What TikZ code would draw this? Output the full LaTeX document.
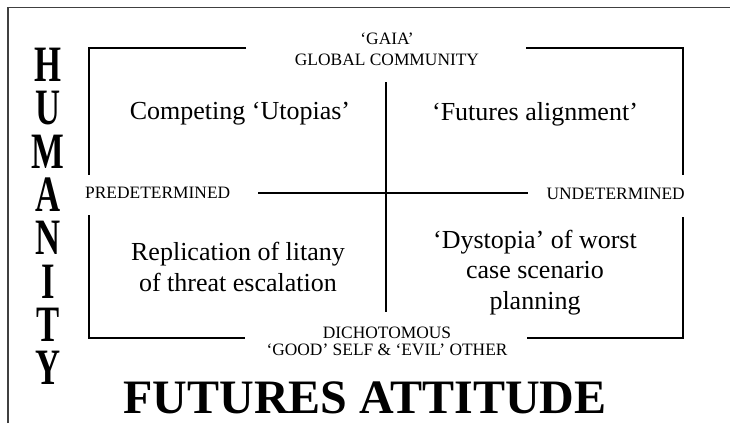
\documentclass[tikz,border=0pt]{standalone}
\usepackage{fontspec}
\setmainfont{Liberation Serif}
\begin{document}
\begin{tikzpicture}[x=1pt,y=-1pt,
  frame/.style={draw=black!75, line width=1.4pt},
  boxline/.style={draw=black, line width=1.3pt},
  axislabel/.style={inner sep=0pt, font=\rmfamily\fontsize{17.4}{19}\selectfont},
  quad/.style={inner sep=0pt, align=center, font=\rmfamily\fontsize{26}{30.5}\selectfont},
  humletter/.style={inner sep=0pt, text height=33pt, text depth=0pt, font=\rmfamily\bfseries\fontsize{51}{51}\selectfont, xscale=0.68}
]
\useasboundingbox (0,0) rectangle (730,423);
% outer frame (top and left edge)
\draw[frame] (8,423) -- (8,7.5) -- (730,7.5);
% inner box segments
\draw[boxline] (246,48) -- (89,48) -- (89,175);
\draw[boxline] (526,48) -- (683,48) -- (683,175);
\draw[boxline] (89,215) -- (89,338) -- (245,338);
\draw[boxline] (683,217) -- (683,338) -- (527,338);
% axes
\coordinate (vtop) at (386,82);
\coordinate (vbot) at (386,312);
\coordinate (hl) at (258,193);
\coordinate (hr) at (528,193);
\draw[boxline] (vtop) -- (vbot);
\draw[boxline] (hl) -- (hr);
% axis labels
\node[axislabel] (gaia) at (387,38.5) {‘GAIA’};
\node[axislabel] (global) at (387,60) {GLOBAL COMMUNITY};
\node[axislabel, anchor=west] (pre) at (85,193) {PREDETERMINED};
\node[axislabel, anchor=east] (und) at (685,194) {UNDETERMINED};
\node[axislabel] (dich) at (387,333) {DICHOTOMOUS};
\node[axislabel] (good) at (387,350) {‘GOOD’ SELF \& ‘EVIL’ OTHER};
% quadrant texts
\node[quad] (q1) at (240,114) {Competing ‘Utopias’};
\node[quad] (q2) at (535,114) {‘Futures alignment’};
\node[quad] (q3) at (238,267) {Replication of litany\\of threat escalation};
\node[quad] (q4) at (535,272.5) {‘Dystopia’ of worst\\case scenario\\planning};
% title
\node[inner sep=0pt, font=\rmfamily\fontsize{48}{48}\selectfont\bfseries] (title) at (365,397.5) {FUTURES ATTITUDE};
% HUMANITY vertical
\foreach \L [count=\i from 0] in {H,U,M,A,N,I,T,Y}
  \node[humletter] (hum\i) at (48,{65+43.3*\i}) {\L};
\end{tikzpicture}
\end{document}
